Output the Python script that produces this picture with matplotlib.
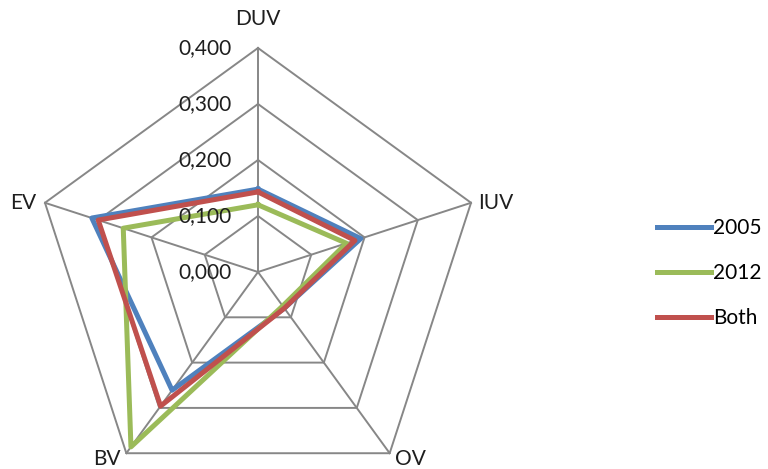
import numpy as np
import matplotlib
matplotlib.use("Agg")
import matplotlib.pyplot as plt

# Daten
categories = ["DUV", "IUV", "OV", "BV", "EV"]
values_2005 = [0.148, 0.193, 0.080, 0.261, 0.312]
values_2012 = [0.120, 0.166, 0.075, 0.386, 0.253]
values_both = [0.143, 0.182, 0.080, 0.296, 0.300]
series_names = ["2005", "2012", "Both"]
ring_levels = [0.0, 0.1, 0.2, 0.3, 0.4]
ring_labels = ["0,000", "0,100", "0,200", "0,300", "0,400"]

colors = ["#4F81BD", "#9BBB59", "#C0504D"]
grid_color = "#878787"

plt.rcParams["font.family"] = ["Lato", "DejaVu Sans"]

# Winkel im Uhrzeigersinn ab oben
n = len(categories)
angles = np.arange(n) * 2 * np.pi / n


def to_xy(vals):
    vals = np.asarray(vals, dtype=float)
    a = np.append(angles, angles[0])
    r = np.append(vals, vals[0])
    return r * np.sin(a), r * np.cos(a)


fig = plt.figure(figsize=(7.68, 4.69), dpi=100)
ax = fig.add_axes([0, 0, 1, 1])
ax.set_xlim(-258 / 560, (768 - 258) / 560)
ax.set_ylim(-(469 - 272) / 560, 272 / 560)
ax.set_aspect("equal")
ax.axis("off")

# Gitter (Fünfecke und Speichen)
for lvl in ring_levels[1:]:
    x, y = to_xy([lvl] * n)
    ax.plot(x, y, color=grid_color, lw=1.4, zorder=1)
rmax = ring_levels[-1]
for a in angles:
    ax.plot([0, rmax * np.sin(a)], [0, rmax * np.cos(a)], color=grid_color, lw=1.4, zorder=1)

# Datenreihen
for vals, name, c in zip([values_2005, values_2012, values_both], series_names, colors):
    x, y = to_xy(vals)
    ax.plot(x, y, color=c, lw=3.6, label=name, solid_joinstyle="round", zorder=3)

# Achsenbeschriftung
for lvl, lab in zip(ring_levels, ring_labels):
    ax.text(-0.047, lvl, lab, ha="right", va="center", fontsize=15, color="#1e1e1e", zorder=4)

label_offsets = {
    "DUV": (0, 14, "center", "bottom"),
    "IUV": (5, 0, "left", "center"),
    "OV": (4, 3, "left", "top"),
    "BV": (-4, 3, "right", "top"),
    "EV": (-6, 0, "right", "center"),
}
for a, cat in zip(angles, categories):
    dx, dy, ha, va = label_offsets[cat]
    ax.annotate(cat, (rmax * np.sin(a), rmax * np.cos(a)), xytext=(dx, dy),
                textcoords="offset points", ha=ha, va=va, fontsize=15, color="#1e1e1e")

fig.legend(loc="center left", bbox_to_anchor=(657 / 768, 1 - 273 / 469), frameon=False,
           fontsize=15, handlelength=2.6, handletextpad=0.1, labelspacing=1.2,
           borderpad=0, borderaxespad=0)

fig.savefig("out.png", dpi=100)
